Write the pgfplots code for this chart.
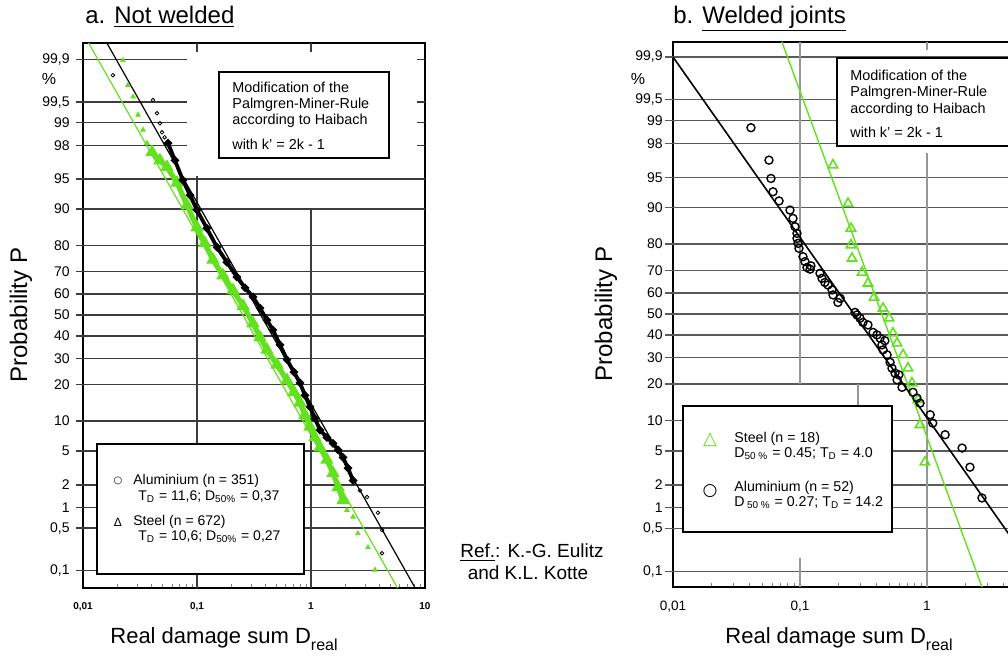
\documentclass[border=0pt]{standalone}
\usepackage{pgfplots}
\pgfplotsset{compat=1.18}
\usepackage{fontspec}
\setmainfont{Liberation Sans}
\newfontfamily\dejavu{DejaVu Sans}
\definecolor{lgreen}{RGB}{100,225,30}
\definecolor{gridL}{RGB}{60,60,60}
\definecolor{gridR}{RGB}{90,90,90}
\definecolor{gridV}{RGB}{150,150,150}
\newcommand{\hgl}[4]{\draw[#4,line width=0.7pt] (axis cs:#2,#1) -- (axis cs:#3,#1);}
\begin{document}
\begin{tikzpicture}
\useasboundingbox (0pt,0pt) rectangle (504pt,-329.5pt);
\clip (0pt,0pt) rectangle (504pt,-329.5pt);
% ---------------- a. Not welded ----------------
\begin{axis}[scale only axis, xmode=log, xmin=0.01, xmax=10, clip=false,
  at={(41.5pt,-294pt)}, anchor=south west,
  width=171pt, height=272.5pt, ymin=-3.30, ymax=3.29,
  axis line style={line width=0.9pt},
  major tick length=0pt, minor tick length=2pt,
  xtick pos=left, ytick pos=left,
  xtick={0.01,0.1,1,10},
  minor xtick={0.02,0.03,0.04,0.05,0.06,0.07,0.08,0.09,0.2,0.3,0.4,0.5,0.6,0.7,0.8,0.9,2,3,4,5,6,7,8,9},
  xticklabels={{0,01},{0,1},1,10},
  ytick={-3.0902,-2.5758,-2.3263,-2.0537,-1.6449,-1.2816,-0.8416,-0.5244,-0.2533,0,0.2533,0.5244,0.8416,1.2816,1.6449,2.0537,2.3263,2.5758,3.0902},
  yticklabels={{0,1},{0,5},1,2,5,10,20,30,40,50,60,70,80,90,95,98,99,{99,5},{99,9}},
  yticklabel style={font=\fontsize{7}{7}\selectfont, inner sep=0pt, xshift=-6.5pt},
  xticklabel style={font=\fontsize{5}{5}\selectfont\bfseries, inner sep=0pt, yshift=-7pt}]
\hgl{3.0902}{0.0087}{0.0817}{gridL} \hgl{3.0902}{8.51}{10}{gridL}
\hgl{2.5758}{0.0087}{0.0817}{gridL} \hgl{2.5758}{8.51}{10}{gridL}
\hgl{2.3263}{0.0087}{0.0817}{gridL} \hgl{2.3263}{8.51}{10}{gridL}
\hgl{2.0537}{0.0087}{0.0817}{gridL} \hgl{2.0537}{8.51}{10}{gridL}
\hgl{1.6449}{0.0087}{10}{gridL}
\hgl{1.2816}{0.0087}{10}{gridL}
\hgl{0.8416}{0.0087}{10}{gridL}
\hgl{0.5244}{0.0087}{10}{gridL}
\hgl{0.2533}{0.0087}{10}{gridL}
\hgl{0}{0.0087}{10}{gridL}
\hgl{-0.2533}{0.0087}{10}{gridL}
\hgl{-0.5244}{0.0087}{10}{gridL}
\hgl{-0.8416}{0.0087}{10}{gridL}
\hgl{-1.2816}{0.0087}{10}{gridL}
\hgl{-1.6449}{0.0087}{10}{gridL}
\hgl{-2.0537}{0.0087}{10}{gridL}
\hgl{-2.3263}{0.0087}{10}{gridL}
\hgl{-2.5758}{0.0087}{10}{gridL}
\hgl{-3.0902}{0.0087}{10}{gridL}
\draw[gridL,line width=0.7pt] (axis cs:0.1,3.29) -- (axis cs:0.1,3.18);
\draw[gridL,line width=0.7pt] (axis cs:0.1,1.68) -- (axis cs:0.1,-3.30);
\draw[gridL,line width=0.7pt] (axis cs:1,3.29) -- (axis cs:1,3.18);
\draw[gridL,line width=0.7pt] (axis cs:1,1.2816) -- (axis cs:1,-3.30);
% fitted lines
\addplot[black, line width=0.6pt] coordinates {(0.0162,3.29) (8.2,-3.30)};
\addplot[lgreen, line width=0.6pt] coordinates {(0.0112,3.29) (5.75,-3.30)};
% Steel (n = 672)
\addplot[lgreen, line width=2.6pt, mark=triangle, mark size=1.3pt] coordinates {
(0.0403,1.97)(0.0473,1.87)(0.0545,1.79)(0.0668,1.60)(0.0817,1.33)(0.1,1.06)(0.117,0.87)(0.138,0.67)(0.169,0.48)(0.207,0.30)(0.254,0.11)(0.310,-0.10)(0.357,-0.27)(0.411,-0.42)(0.504,-0.60)(0.616,-0.79)(0.709,-0.93)(0.801,-1.06)(0.886,-1.21)(0.980,-1.35)(1.084,-1.48)(1.2,-1.60)(1.38,-1.75)(1.56,-1.91)(1.73,-2.08)(1.91,-2.24)};
\addplot[lgreen, only marks, mark=triangle*, mark size=1.3pt] coordinates {
(0.0224,3.08)(0.0248,2.78)(0.0275,2.64)(0.0304,2.42)(0.0336,2.24)(0.0364,2.08)
(2.07,-2.36)(2.34,-2.44)(2.58,-2.64)(3.16,-2.81)(3.64,-3.08)};
% Aluminium (n = 351)
\addplot[black, line width=1.9pt, mark=*, mark size=0.9pt] coordinates {
(0.0557,2.08)(0.0641,1.87)(0.0753,1.63)(0.0868,1.45)(0.100,1.27)(0.122,1.05)(0.150,0.82)(0.183,0.64)(0.224,0.46)(0.264,0.33)(0.310,0.22)(0.357,0.085)(0.411,-0.06)(0.464,-0.18)(0.535,-0.36)(0.616,-0.54)(0.709,-0.69)(0.801,-0.82)(0.886,-0.97)(0.980,-1.11)(1.084,-1.25)(1.2,-1.39)(1.38,-1.48)(1.56,-1.55)(1.73,-1.63)(1.91,-1.72)(2.11,-1.85)(2.34,-2.00)};
\addplot[black, only marks, mark=o, mark size=0.9pt] coordinates {
(0.0183,2.90)(0.0411,2.60)(0.0446,2.44)(0.0473,2.32)(0.0493,2.21)(0.052,2.15)
(2.69,-2.12)(3.10,-2.20)(3.87,-2.39)(4.20,-2.60)(4.20,-2.88)};
\end{axis}
% ---------------- b. Welded joints ----------------
\begin{axis}[scale only axis, xmode=log, xmin=0.01, xmax=10, clip=false,
  at={(336.5pt,-293.5pt)}, anchor=south west,
  width=190.5pt, height=272.5pt, ymin=-3.28, ymax=3.27,
  axis line style={line width=0.9pt},
  major tick length=0pt, minor tick length=2pt,
  xtick pos=left, ytick pos=left,
  xtick={0.01,0.1,1},
  minor xtick={0.02,0.03,0.04,0.05,0.06,0.07,0.08,0.09,0.2,0.3,0.4,0.5,0.6,0.7,0.8,0.9,2,3,4,5,6,7,8,9},
  xticklabels={{0,01},{0,1},1},
  ytick={-3.0902,-2.5758,-2.3263,-2.0537,-1.6449,-1.2816,-0.8416,-0.5244,-0.2533,0,0.2533,0.5244,0.8416,1.2816,1.6449,2.0537,2.3263,2.5758,3.0902},
  yticklabels={{0,1},{0,5},1,2,5,10,20,30,40,50,60,70,80,90,95,98,99,{99,5},{99,9}},
  yticklabel style={font=\fontsize{7}{7}\selectfont, inner sep=0pt, xshift=-5pt},
  xticklabel style={font=\fontsize{6.8}{7}\selectfont, inner sep=0pt, yshift=-7pt}]
\hgl{3.0902}{0.00865}{10}{gridR}
\hgl{2.5758}{0.00865}{10}{gridR}
\hgl{2.3263}{0.00865}{10}{gridR}
\hgl{2.0537}{0.00865}{10}{gridR}
\hgl{1.6449}{0.00865}{10}{gridR}
\hgl{1.2816}{0.00865}{10}{gridR}
\hgl{0.8416}{0.00865}{10}{gridR}
\hgl{0.5244}{0.00865}{10}{gridR}
\hgl{0.2533}{0.00865}{10}{gridR}
\hgl{0}{0.00865}{10}{gridR}
\hgl{-0.2533}{0.00865}{10}{gridR}
\hgl{-0.5244}{0.00865}{10}{gridR}
\hgl{-0.8416}{0.00865}{10}{gridR}
\hgl{-1.2816}{0.00865}{10}{gridR}
\hgl{-1.6449}{0.00865}{10}{gridR}
\hgl{-2.0537}{0.00865}{10}{gridR}
\hgl{-2.3263}{0.00865}{10}{gridR}
\hgl{-2.5758}{0.00865}{10}{gridR}
\hgl{-3.0902}{0.00865}{10}{gridR}
\draw[gridV,line width=0.6pt] (axis cs:0.1,3.27) -- (axis cs:0.1,-0.8416);
\draw[gridV,line width=0.6pt] (axis cs:0.1,-2.93) -- (axis cs:0.1,-3.28);
\draw[gridV,line width=0.6pt] (axis cs:1,3.27) -- (axis cs:1,3.17);
\draw[gridV,line width=0.6pt] (axis cs:1,1.935) -- (axis cs:1,-3.28);
\draw[gridV,line width=0.6pt] (axis cs:0.286,-0.8416) -- (axis cs:0.286,-1.11);
% fitted lines
\addplot[black, line width=0.8pt] coordinates {(0.01,3.0902) (8.67,-3.28)};
\addplot[lgreen, line width=0.7pt] coordinates {(0.0721,3.27) (2.71,-3.28)};
% Steel (n = 18)
\addplot[lgreen, only marks, mark=triangle, mark size=2.7pt, mark options={line width=0.8pt}] coordinates {
(0.182,1.79)(0.239,1.33)(0.252,1.03)(0.252,0.83)(0.257,0.67)(0.308,0.50)(0.343,0.37)(0.383,0.20)(0.451,0.07)(0.503,-0.05)(0.540,-0.23)(0.581,-0.35)(0.648,-0.49)(0.709,-0.65)(0.762,-0.83)(0.849,-1.03)(0.881,-1.33)(0.964,-1.78)};
% Aluminium (n = 52)
\addplot[black, only marks, mark=o, mark size=2pt, mark options={line width=0.7pt}] coordinates {
(0.0411,2.24)(0.0570,1.85)(0.0591,1.63)(0.0613,1.47)(0.0684,1.36)(0.0834,1.25)(0.0881,1.15)(0.0914,1.05)(0.0947,0.97)(0.0947,0.91)(0.0965,0.85)(0.0982,0.79)(0.1056,0.69)(0.1095,0.63)(0.1135,0.56)(0.120,0.54)(0.122,0.58)(0.1437,0.49)(0.149,0.43)(0.157,0.38)(0.166,0.35)(0.179,0.29)(0.182,0.23)(0.199,0.14)(0.207,0.19)(0.271,0.02)(0.281,-0.01)(0.297,-0.05)(0.313,-0.10)(0.343,-0.13)(0.376,-0.22)(0.404,-0.25)(0.427,-0.29)(0.442,-0.37)(0.451,-0.43)(0.466,-0.32)(0.485,-0.49)(0.512,-0.58)(0.530,-0.65)(0.560,-0.71)(0.581,-0.79)(0.60,-0.73)(0.636,-0.88)(0.776,-0.94)(0.834,-1.01)(0.881,-1.07)(1.06,-1.21)(1.11,-1.31)(1.39,-1.45)(1.89,-1.61)(2.18,-1.84)(2.71,-2.21)};
\end{axis}
% ---------------- annotations (pixel coordinates) ----------------
\begin{scope}[x=0.5pt,y=-0.5pt]
\node[anchor=base west, inner sep=0pt, font=\fontsize{12}{14}\selectfont] at (85,23) {a. \underline{Not welded}};
\node[anchor=base west, inner sep=0pt, font=\fontsize{12}{14}\selectfont] at (673,23) {b. \underline{Welded joints}};
\node[rotate=90, inner sep=0pt, font=\fontsize{12}{14}\selectfont] at (21,315) {Probability P};
\node[rotate=90, inner sep=0pt, font=\fontsize{12}{14}\selectfont] at (606,314) {Probability P};
\node[anchor=base west, inner sep=0pt, font=\fontsize{11}{13}\selectfont] at (110,643) {Real damage sum D\raisebox{-3.5pt}{\fontsize{8}{8}\selectfont real}};
\node[anchor=base west, inner sep=0pt, font=\fontsize{11}{13}\selectfont] at (725,643) {Real damage sum D\raisebox{-3.5pt}{\fontsize{8}{8}\selectfont real}};
\node[inner sep=0pt, font=\fontsize{8}{8}\selectfont] at (49,79) {\%};
\node[inner sep=0pt, font=\fontsize{8}{8}\selectfont] at (638,79) {\%};
\draw[fill=white, line width=0.7pt] (219,72) rectangle (389,158);
\node[anchor=base west, inner sep=0pt, font=\fontsize{7.2}{8}\selectfont] at (232,92) {Modification of the};
\node[anchor=base west, inner sep=0pt, font=\fontsize{7.2}{8}\selectfont] at (232,108) {Palmgren-Miner-Rule};
\node[anchor=base west, inner sep=0pt, font=\fontsize{7.2}{8}\selectfont] at (232,124) {according to Haibach};
\node[anchor=base west, inner sep=0pt, font=\fontsize{7.2}{8}\selectfont] at (232,149) {with k' = 2k - 1};
\draw[fill=white, line width=0.7pt] (97,444) rectangle (304,574);
\node[anchor=base west, inner sep=0pt, font=\fontsize{7}{8}\selectfont] at (133,484) {Aluminium (n = 351)};
\node[anchor=base west, inner sep=0pt, font=\fontsize{7}{8}\selectfont] at (138,500) {T\textsubscript{D} = 11,6; D\textsubscript{50\%} = 0,37};
\node[anchor=base west, inner sep=0pt, font=\fontsize{7}{8}\selectfont] at (133,525) {Steel (n = 672)};
\node[anchor=base west, inner sep=0pt, font=\fontsize{7}{8}\selectfont] at (138,540) {T\textsubscript{D} = 10,6; D\textsubscript{50\%} = 0,27};
\node[inner sep=0pt, font=\dejavu\fontsize{5}{5}\selectfont] at (118,481) {○};
\node[inner sep=0pt, font=\fontsize{6}{6}\selectfont] at (118,522) {Δ};
\draw[fill=white, line width=0.7pt] (837,58) rectangle (1040,146);
\node[anchor=base west, inner sep=0pt, font=\fontsize{7.2}{8}\selectfont] at (850,80) {Modification of the};
\node[anchor=base west, inner sep=0pt, font=\fontsize{7.2}{8}\selectfont] at (850,96) {Palmgren-Miner-Rule};
\node[anchor=base west, inner sep=0pt, font=\fontsize{7.2}{8}\selectfont] at (850,113) {according to Haibach};
\node[anchor=base west, inner sep=0pt, font=\fontsize{7.2}{8}\selectfont] at (850,137) {with k' = 2k - 1};
\draw[fill=white, line width=0.7pt] (683,406) rectangle (892,532);
\node[anchor=base west, inner sep=0pt, font=\fontsize{7.1}{8}\selectfont] at (734,442) {Steel (n = 18)};
\node[anchor=base west, inner sep=0pt, font=\fontsize{7.1}{8}\selectfont] at (734,457) {D\textsubscript{50 \%} = 0.45; T\textsubscript{D} = 4.0};
\node[anchor=base west, inner sep=0pt, font=\fontsize{7.1}{8}\selectfont] at (734,491) {Aluminium (n = 52)};
\node[anchor=base west, inner sep=0pt, font=\fontsize{7.1}{8}\selectfont] at (734,506) {D\,\textsubscript{50 \%} = 0.27; T\textsubscript{D} = 14.2};
\node[inner sep=0pt, text=lgreen, font=\dejavu\fontsize{9}{9}\selectfont] at (710,440) {△};
\node[inner sep=0pt, font=\dejavu\fontsize{8.5}{9}\selectfont] at (710,491) {○};
\node[inner sep=0pt, anchor=base, font=\fontsize{9.5}{11}\selectfont] at (532,557) {\underline{Ref.}: K.-G. Eulitz};
\node[inner sep=0pt, anchor=base, font=\fontsize{9.5}{11}\selectfont] at (528,579) {and K.L. Kotte};
\end{scope}
\end{tikzpicture}
\end{document}
